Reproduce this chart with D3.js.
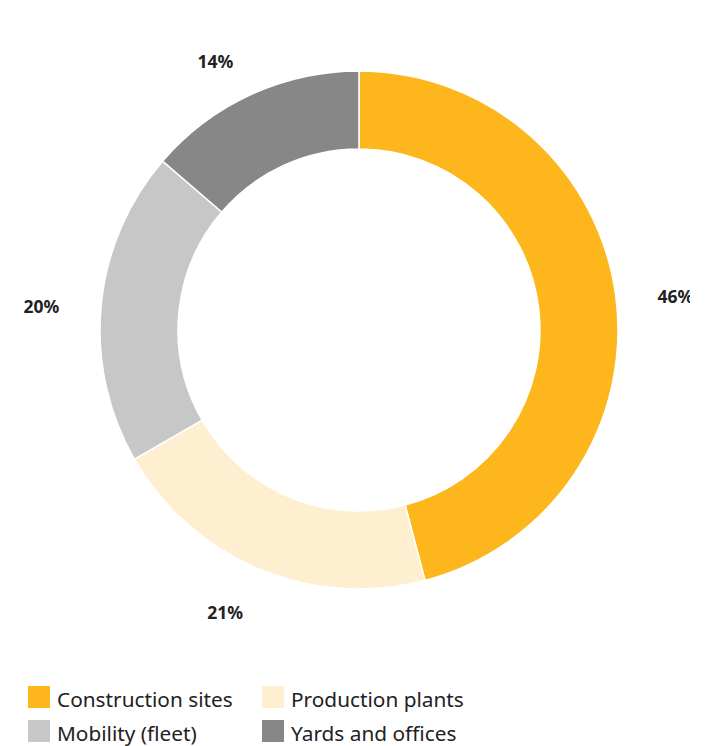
<!DOCTYPE html>
<html>
<head>
<meta charset="utf-8">
<script src="https://cdn.jsdelivr.net/npm/d3@7"></script>
<style>
  html, body { margin: 0; padding: 0; background: #fff; }
  svg { display: block; }
</style>
</head>
<body>
<div id="chart"></div>
<script>
// Energy use by area, percent share (labels show the rounded share)
const categories = ["Construction sites", "Production plants", "Mobility (fleet)", "Yards and offices"];
const shares = [45.9, 20.8, 19.6, 13.7];
const colors = ["#FDB71C", "#FFEFD1", "#C7C7C7", "#878787"];

const width = 690, height = 746;
const cx = 359, cy = 330;
const outerR = 259, innerR = 181, labelR = 301;

const svg = d3.select("#chart").append("svg")
  .attr("width", width).attr("height", height);

const data = categories.map((c, i) => ({ name: c, value: shares[i], color: colors[i] }));

const pie = d3.pie().value(d => d.value).sort(null);
const arc = d3.arc().innerRadius(innerR).outerRadius(outerR);
const labelArc = d3.arc().innerRadius(labelR).outerRadius(labelR);

const g = svg.append("g").attr("transform", `translate(${cx},${cy})`);
const arcs = pie(data);

g.selectAll("path.slice").data(arcs).join("path")
  .attr("class", "slice")
  .attr("d", arc)
  .attr("fill", d => d.data.color)
  .attr("stroke", "#fff")
  .attr("stroke-width", 1.5);

const midAngle = d => (d.startAngle + d.endAngle) / 2;

g.selectAll("text.pct").data(arcs).join("text")
  .attr("class", "pct")
  .attr("transform", d => `translate(${labelArc.centroid(d)})`)
  .attr("text-anchor", d => midAngle(d) < Math.PI ? "start" : "end")
  .attr("dy", "0.65em")
  .attr("font-family", "'Noto Sans', 'Open Sans', sans-serif")
  .attr("font-weight", "bold")
  .attr("font-size", 17.5)
  .attr("fill", "#222")
  .text(d => Math.round(d.data.value) + "%");

// Legend: two columns, two rows
const legend = svg.append("g");
const cols = [28, 262], rows = [686, 720];
data.forEach((d, i) => {
  const x = cols[i % 2], y = rows[Math.floor(i / 2)];
  const item = legend.append("g").attr("transform", `translate(${x},${y})`);
  item.append("rect").attr("width", 22).attr("height", 22).attr("fill", d.color);
  item.append("text")
    .attr("x", 29).attr("y", 12.5)
    .attr("dominant-baseline", "central")
    .attr("font-family", "'Noto Sans', 'Open Sans', sans-serif")
    .attr("font-size", 20.8)
    .attr("fill", "#222")
    .text(d.name);
});
</script>
</body>
</html>
